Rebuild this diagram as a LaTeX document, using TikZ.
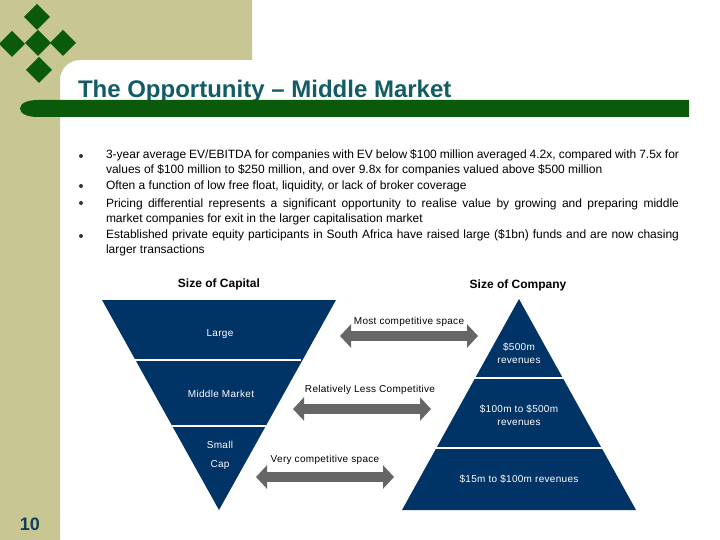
\documentclass[tikz,border=0pt]{standalone}
\usepackage{fontspec}
\setmainfont{Liberation Sans}
\usepackage{tikz}
\usetikzlibrary{arrows.meta,shapes.geometric}
\definecolor{sidecolor}{HTML}{C8C794}
\definecolor{leafcolor}{HTML}{0B5A0B}
\definecolor{titlecolor}{HTML}{125C66}
\definecolor{navycolor}{HTML}{003366}
\definecolor{arrowcolor}{HTML}{666666}
\definecolor{pagecolor}{HTML}{123F58}

\begin{document}
\begin{tikzpicture}[x=1pt,y=-1pt,
	thick,inner sep=0pt,outer sep=0pt,
	leaf node/.style={diamond,fill=leafcolor,minimum size=26pt},
	dot node/.style={circle,fill=black!80,minimum size=4pt},
	body node/.style={anchor=north west,text width=573pt,align=justify,font=\fontsize{12}{14.6}\selectfont},
	head node/.style={font=\bfseries\fontsize{12}{14}\selectfont,text=black},
	pale node/.style={font=\fontsize{10}{15}\selectfont\addfontfeatures{LetterSpace=3},text=white,align=center},
	dark node/.style={font=\fontsize{10}{12}\selectfont\addfontfeatures{LetterSpace=3},text=black},
	band/.style={draw=white,line width=2pt},
	space arrow/.style={draw=arrowcolor,line width=10pt,{Triangle[length=11pt,width=23pt]}-{Triangle[length=11pt,width=23pt]}}]

	\useasboundingbox (0,0) rectangle (720,540);
	\fill[white] (0,0) rectangle (720,540);
	\fill[sidecolor] (0,0) -- (252,0) -- (252,60) -- (80,60) arc[start angle=90,end angle=180,radius=20pt] -- (60,540) -- (0,540) -- cycle;

	\node[leaf node] (leaftop) at (37,17) {};
	\node[leaf node] (leafleft) at (12,44) {};
	\node[leaf node] (leafmid) at (38,43) {};
	\node[leaf node] (leafright) at (63,43) {};
	\node[leaf node] (leafbottom) at (39,70) {};

	\node[anchor=base west,font=\bfseries\fontsize{24}{26}\selectfont,text=titlecolor] (title) at (78,97.5) {The Opportunity – Middle Market};
	\fill[leafcolor] (20,108.5) .. controls (20,103) and (28,100) .. (38,100) -- (689,100) -- (689,117) -- (38,117) .. controls (28,117) and (20,114) .. (20,108.5) -- cycle;

	\node[dot node] (dot1) at (81,156) {};
	\node[dot node] (dot2) at (81,186) {};
	\node[dot node] (dot3) at (81,203) {};
	\node[dot node] (dot4) at (81,236) {};

	\node[body node] (item1) at (106,150) {3-year average EV/EBITDA for companies with EV below \$100 million averaged 4.2x, compared with 7.5x for\linebreak values of \$100 million to \$250 million, and over 9.8x for companies valued above \$500 million};
	\node[body node] (item2) at (106,181) {Often a function of low free float, liquidity, or lack of broker coverage};
	\node[body node] (item3) at (106,199) {Pricing differential represents a significant opportunity to realise value by growing and preparing middle\linebreak market companies for exit in the larger capitalisation market};
	\node[body node] (item4) at (106,230) {Established private equity participants in South Africa have raised large (\$1bn) funds and are now chasing\linebreak larger transactions};

	\node[head node] (capital) at (219,284.5) {Size of Capital};
	\node[head node] (company) at (518,285.5) {Size of Company};

	\fill[navycolor] (102,300) -- (336,300) -- (219,510) -- cycle;
	\fill[navycolor] (519,299) -- (636,510) -- (402,510) -- cycle;

	\coordinate (capa) at (135,360);
	\coordinate (capb) at (301,360);
	\coordinate (capc) at (172,426);
	\coordinate (capd) at (266,426);
	\coordinate (coma) at (474,378);
	\coordinate (comb) at (564,378);
	\coordinate (comc) at (436,448);
	\coordinate (comd) at (603,448);
	\draw[band] (capa) -- (capb);
	\draw[band] (capc) -- (capd);
	\draw[band] (coma) -- (comb);
	\draw[band] (comc) -- (comd);

	\node[pale node] (large) at (220,334) {Large};
	\node[pale node] (middle) at (221,394) {Middle Market};
	\node[pale node,font=\fontsize{10}{19}\selectfont\addfontfeatures{LetterSpace=3}] (small) at (220,455) {Small\\Cap};
	\node[pale node,font=\fontsize{10}{12.5}\selectfont\addfontfeatures{LetterSpace=3}] (top) at (519,353.5) {\$500m\\revenues};
	\node[pale node,font=\fontsize{10}{12.5}\selectfont\addfontfeatures{LetterSpace=3}] (mid) at (519,415.5) {\$100m to \$500m\\revenues};
	\node[pale node] (base) at (519,479.5) {\$15m to \$100m revenues};

	\node[dark node] (most) at (409,322) {Most competitive space};
	\node[dark node] (less) at (370,390) {Relatively Less Competitive};
	\node[dark node] (very) at (325,460) {Very competitive space};

	\coordinate (mostl) at (340,336);
	\coordinate (mostr) at (478,336);
	\coordinate (lessl) at (293,409);
	\coordinate (lessr) at (431,409);
	\coordinate (veryl) at (256,477);
	\coordinate (veryr) at (394,477);
	\draw[space arrow] (mostl) -- (mostr);
	\draw[space arrow] (lessl) -- (lessr);
	\draw[space arrow] (veryl) -- (veryr);

	\node[font=\bfseries\fontsize{18}{20}\selectfont,text=pagecolor] (page) at (30,524) {10};

\end{tikzpicture}
\end{document}
